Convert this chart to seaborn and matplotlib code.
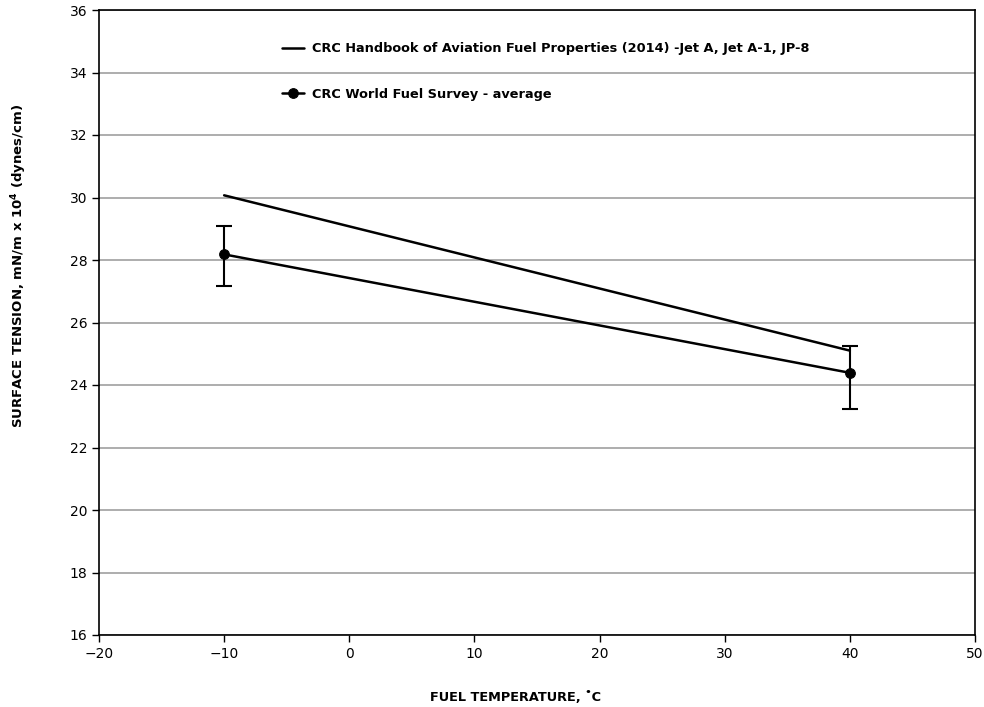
import matplotlib
matplotlib.use("Agg")
import matplotlib.pyplot as plt
import seaborn as sns
import pandas as pd
import numpy as np

# Data
handbook_temp = [-10, 40]
handbook_st = [30.07, 25.1]
survey_temp = [-10, 40]
survey_st = [28.18, 24.39]
survey_err_low = [1.01, 1.17]
survey_err_high = [0.91, 0.87]

label_hb = "CRC Handbook of Aviation Fuel Properties (2014) -Jet A, Jet A-1, JP-8"
label_sv = "CRC World Fuel Survey - average"

sns.set_theme(style="white")
plt.rcParams['font.family'] = ['DejaVu Sans']
plt.rcParams['text.color'] = 'black'
plt.rcParams['axes.labelcolor'] = 'black'
plt.rcParams['xtick.color'] = 'black'
plt.rcParams['ytick.color'] = 'black'

fig = plt.figure(figsize=(9.84, 7.07), dpi=100)
ax = fig.add_axes([99/984, 1-635/707, (975-99)/984, (635-10)/707])

df_hb = pd.DataFrame({"t": handbook_temp, "s": handbook_st})
df_sv = pd.DataFrame({"t": survey_temp, "s": survey_st})

sns.lineplot(data=df_hb, x="t", y="s", ax=ax, color="black", linewidth=1.8, label=label_hb)
sns.lineplot(data=df_sv, x="t", y="s", ax=ax, color="black", linewidth=1.8,
             marker="o", markersize=7, markeredgecolor="black", label=label_sv)
ax.errorbar(survey_temp, survey_st, yerr=[survey_err_low, survey_err_high], fmt="none",
            ecolor="black", elinewidth=1.5, capsize=6, capthick=1.5)

ax.set_xlim(-20, 50)
ax.set_ylim(16, 36)
ax.set_xticks(np.arange(-20, 51, 10))
ax.set_yticks(np.arange(16, 37, 2))
ax.yaxis.grid(True, color="#a0a0a0", linewidth=1.2)
ax.xaxis.grid(False)
for sp in ax.spines.values():
    sp.set_color("black")
    sp.set_linewidth(1.2)
ax.tick_params(axis="both", direction="out", length=5, width=1, color="black",
               labelsize=10, bottom=True, left=True, labelcolor="black")
ax.set_xticklabels([str(v).replace("-", "\u2212") for v in range(-20, 51, 10)])

ax.set_xlabel("FUEL TEMPERATURE, \u02daC", fontsize=9.3, fontweight="bold", color="black")
ax.set_ylabel(r"SURFACE TENSION, mN/m x 10$^\mathbf{4}$ (dynes/cm)", fontsize=9.5,
              fontweight="bold", color="black")
ax.xaxis.set_label_coords(0.475, -0.089)
ax.yaxis.set_label_coords(-0.0795, 0.590)

leg = ax.legend(loc="upper left", bbox_to_anchor=(0.196, 0.967), frameon=False,
                prop={"weight": "bold", "size": 9.3}, labelspacing=2.5,
                handlelength=1.7, handletextpad=0.6)
for t in leg.get_texts():
    t.set_color("black")

fig.savefig("out.png", dpi=100)
